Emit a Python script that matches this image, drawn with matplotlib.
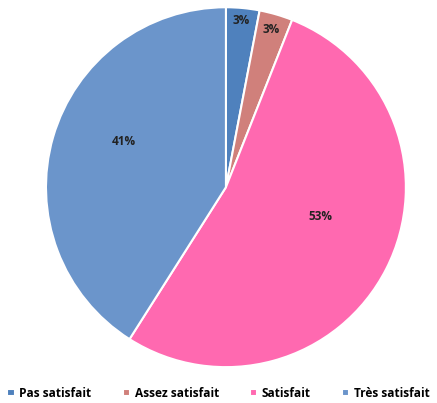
import matplotlib
matplotlib.use("Agg")
import matplotlib.pyplot as plt
import numpy as np

categories = ['Pas satisfait', 'Assez satisfait', 'Satisfait', 'Très satisfait']
values = [3, 3, 53, 41]
colors = ['#4f81bd', '#d0807b', '#ff69b0', '#6b95cb']
# radial position of each % label (fraction of radius)
label_r = [0.93, 0.91, 0.55, 0.62]
label_shift = [0, 0, 10, -8]  # degrees

plt.rcParams['font.family'] = ['Open Sans', 'DejaVu Sans']

fig = plt.figure(figsize=(4.37, 4.03), dpi=100)
ax = fig.add_axes([0.105, 0.089, 0.824, 0.893])

wedges, _ = ax.pie(values, colors=colors, startangle=90, counterclock=False,
                   wedgeprops=dict(edgecolor='white', linewidth=1.5))
ax.set_xlim(-1, 1)
ax.set_ylim(-1, 1)

for w, v, r, s in zip(wedges, values, label_r, label_shift):
    ang = np.deg2rad((w.theta1 + w.theta2) / 2 + s)
    ax.text(r * np.cos(ang), r * np.sin(ang), f'{v}%', ha='center', va='center',
            fontsize=8.5, fontweight='bold', color='#222222')

fig.legend(wedges, categories, loc='lower center', bbox_to_anchor=(0.5, -0.018),
           ncol=4, frameon=False, handlelength=0.6, handleheight=0.6,
           handletextpad=0.4, columnspacing=2.6,
           prop=dict(weight='bold', size=8.6))

fig.savefig('out.png', dpi=100)
